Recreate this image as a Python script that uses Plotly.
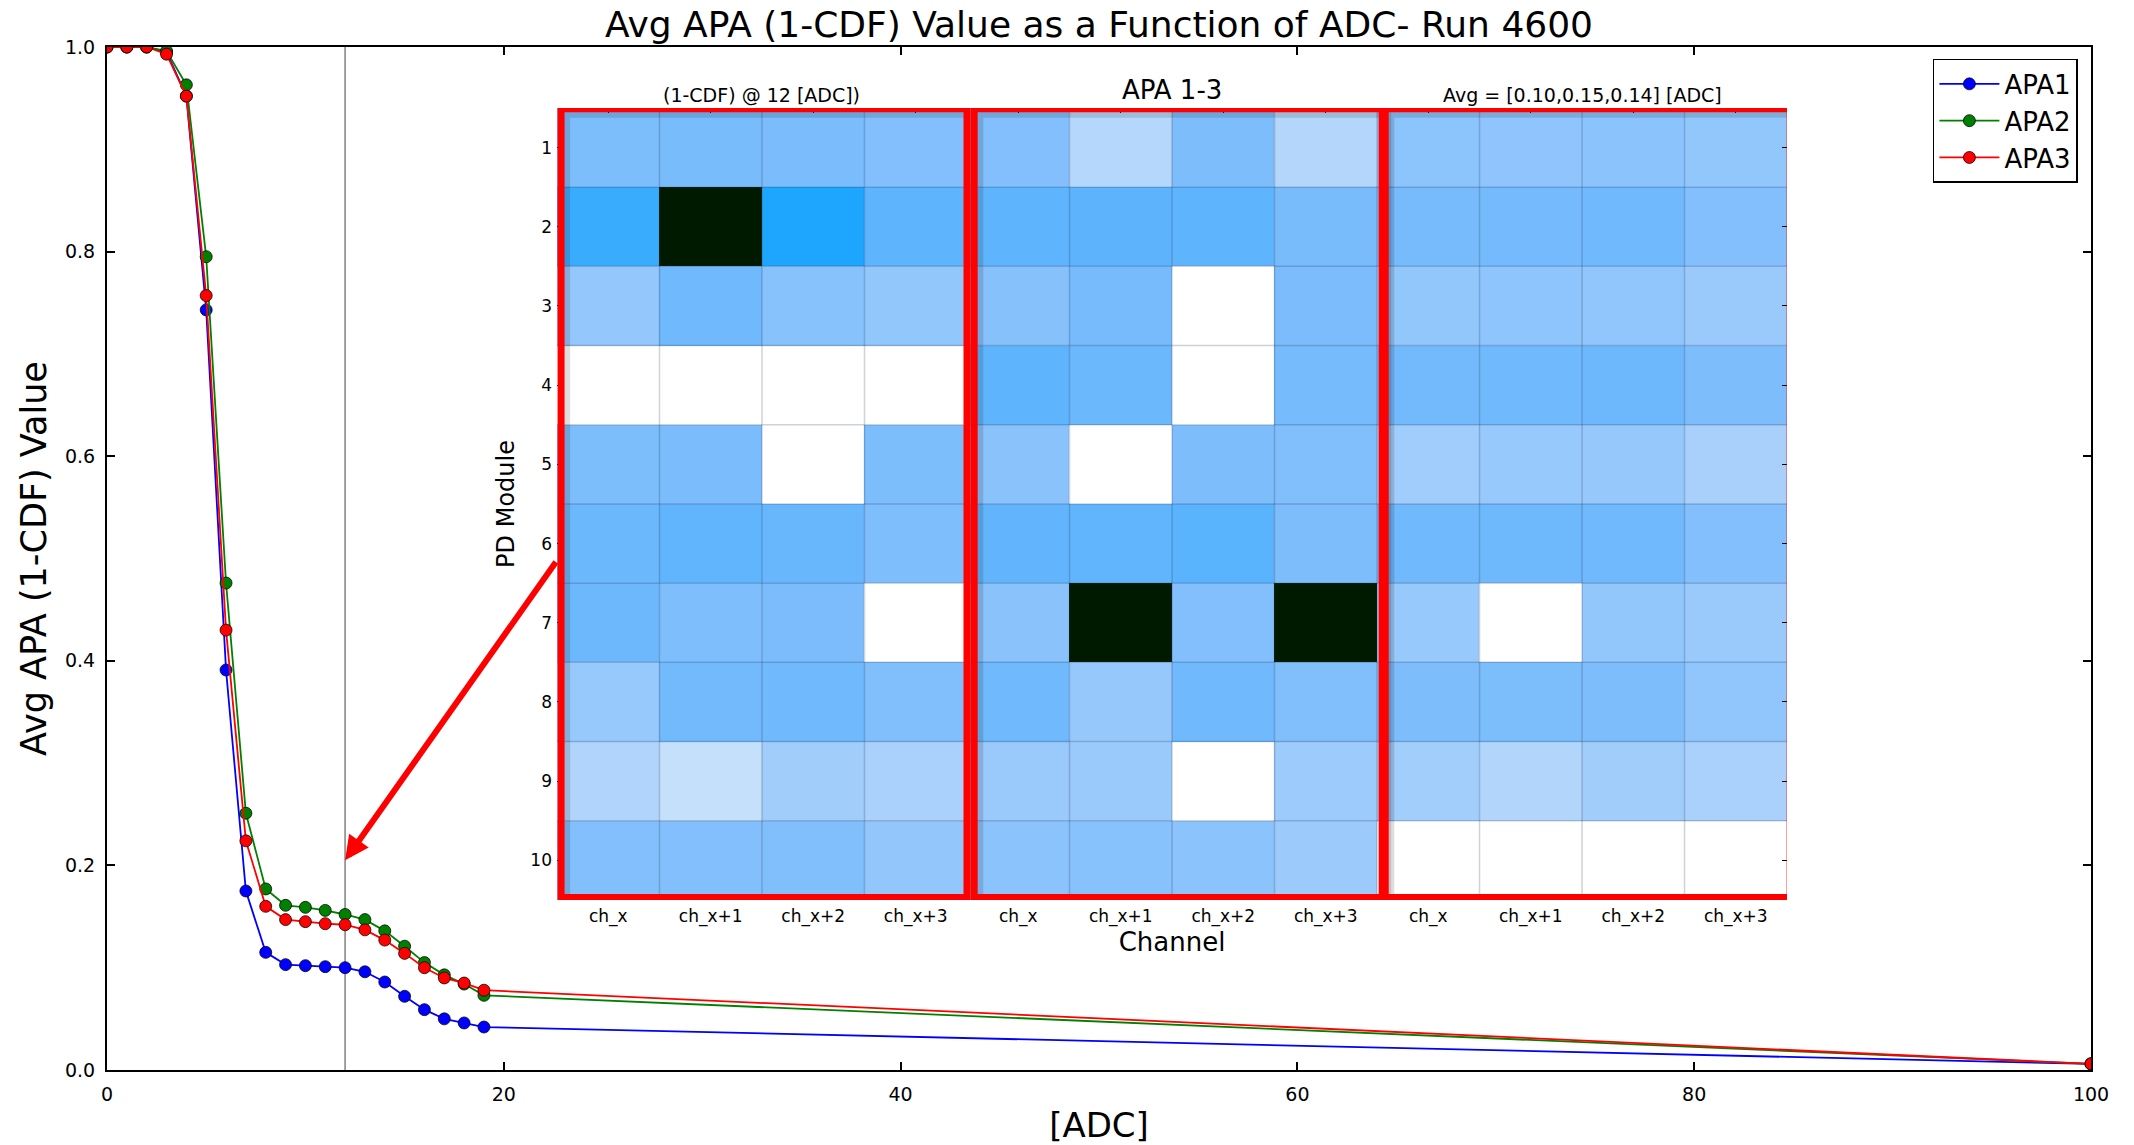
import numpy as np
import plotly.graph_objects as go

# ---- threshold scan: average (1-CDF) per APA versus ADC threshold ----
adc = [0, 1, 2, 3, 4, 5, 6, 7, 8, 9, 10, 11, 12, 13, 14, 15, 16, 17, 18, 19, 100]
apa1 = [1.0, 1.0, 1.0, 0.995, 0.952, 0.743, 0.391, 0.175, 0.115, 0.103, 0.102,
        0.101, 0.100, 0.096, 0.086, 0.072, 0.059, 0.050, 0.046, 0.042, 0.006]
apa2 = [1.0, 1.0, 1.0, 0.996, 0.963, 0.795, 0.476, 0.251, 0.177, 0.161, 0.159,
        0.156, 0.152, 0.147, 0.136, 0.121, 0.105, 0.093, 0.084, 0.073, 0.006]
apa3 = [1.0, 1.0, 1.0, 0.993, 0.952, 0.757, 0.430, 0.224, 0.160, 0.147, 0.145,
        0.143, 0.142, 0.137, 0.127, 0.114, 0.100, 0.090, 0.085, 0.078, 0.006]

series_names = ["APA1", "APA2", "APA3"]
series_colors = ["#0000ff", "#008000", "#ff0000"]

cut_adc = 12  # threshold shown in the per-channel map

# ---- per-channel (1-CDF) at the cut, rows = PD module 1..10 ----
channels = ["ch_x", "ch_x+1", "ch_x+2", "ch_x+3"]
modules = list(range(1, 11))
nan = np.nan

cdf_apa1 = [
    [0.098, 0.102, 0.101, 0.090],
    [0.185, 0.950, 0.250, 0.133],
    [0.067, 0.113, 0.081, 0.069],
    [nan, nan, nan, nan],
    [0.098, 0.101, nan, 0.098],
    [0.117, 0.129, 0.121, 0.094],
    [0.116, 0.094, 0.099, nan],
    [0.064, 0.110, 0.112, 0.093],
    [0.040, 0.023, 0.054, 0.045],
    [0.090, 0.090, 0.093, 0.068],
]
cdf_apa2 = [
    [0.090, 0.036, 0.096, 0.037],
    [0.131, 0.134, 0.131, 0.102],
    [0.084, 0.103, nan, 0.099],
    [0.131, 0.118, nan, 0.106],
    [0.078, nan, 0.096, 0.093],
    [0.128, 0.129, 0.140, 0.096],
    [0.078, 0.950, 0.090, 0.950],
    [0.113, 0.065, 0.113, 0.093],
    [0.061, 0.061, nan, 0.058],
    [0.076, 0.081, 0.076, 0.059],
]
cdf_apa3 = [
    [0.075, 0.072, 0.076, 0.069],
    [0.104, 0.108, 0.113, 0.090],
    [0.069, 0.073, 0.071, 0.061],
    [0.109, 0.113, 0.116, 0.096],
    [0.055, 0.063, 0.065, 0.047],
    [0.112, 0.114, 0.112, 0.090],
    [0.063, nan, 0.069, 0.061],
    [0.096, 0.098, 0.096, 0.071],
    [0.053, 0.038, 0.054, 0.045],
    [nan, nan, nan, nan],
]

# light blue for low occupancy, saturated blue for high, near-black for hot channels
cell_scale = [
    [0.0, "#d4e8fb"], [0.02, "#c8e2fb"], [0.045, "#aad1fb"], [0.075, "#8cc4fc"],
    [0.10, "#7bbcfc"], [0.13, "#60b5fd"], [0.18, "#3cacfe"], [0.25, "#1ea5fe"],
    [0.4999, "#1ea5fe"], [0.5, "#001a00"], [1.0, "#001a00"],
]

FONT = "DejaVu Sans"
W, H = 2134, 1145
ML, MR, MT, MB = 107, 43, 47, 75

fig = go.Figure()

for name, col, vals in zip(series_names, series_colors, [apa1, apa2, apa3]):
    fig.add_trace(go.Scatter(
        x=adc, y=vals, name=name, mode="lines+markers",
        line=dict(color=col, width=1.8),
        marker=dict(color=col, size=12, line=dict(color="rgba(0,0,0,0.75)", width=1)),
    ))

# inset map: three APAs side by side, 4 channels each
z = np.hstack([np.array(cdf_apa1), np.array(cdf_apa2), np.array(cdf_apa3)])
n_groups = 3
n_cols = n_groups * len(channels)
fig.add_trace(go.Heatmap(
    z=z, x=list(range(n_cols)), y=modules, xaxis="x2", yaxis="y2",
    colorscale=cell_scale, zmin=0, zmax=1, showscale=False, hoverongaps=False,
))

inset_x = [0.2268, 0.8468]
inset_y = [0.1662, 0.9404]

axis_common = dict(showgrid=False, zeroline=False, ticks="inside", tickcolor="black",
                   automargin=False)

fig.update_layout(
    width=W, height=H,
    margin=dict(l=ML, r=MR, t=MT, b=MB, autoexpand=False),
    paper_bgcolor="white", plot_bgcolor="white",
    font=dict(family=FONT, color="black"),
    title=dict(text="Avg APA (1-CDF) Value as a Function of ADC- Run 4600",
               font=dict(size=36, family=FONT), x=0.5, xref="paper",
               y=1 - 24 / H, yref="container", yanchor="middle"),
    xaxis=dict(**axis_common, range=[0, 100], tickvals=[0, 20, 40, 60, 80, 100],
               ticklen=8, tickwidth=1.5, showline=True, linecolor="black", linewidth=2,
               mirror="ticks", tickfont=dict(size=19), ticklabelstandoff=6,
               title=dict(text="[ADC]", font=dict(size=34), standoff=14)),
    yaxis=dict(**axis_common, range=[0, 1], tickvals=[0, 0.2, 0.4, 0.6, 0.8, 1.0],
               tickformat=".1f", ticklen=8, tickwidth=1.5, showline=True,
               linecolor="black", linewidth=2, mirror="ticks", tickfont=dict(size=19),
               ticklabelstandoff=6,
               title=dict(text="Avg APA (1-CDF) Value", font=dict(size=35), standoff=8)),
    xaxis2=dict(**axis_common, domain=inset_x, anchor="y2", range=[-0.5, n_cols - 0.5],
                tickvals=list(range(n_cols)), ticktext=channels * n_groups,
                ticklen=5, mirror="ticks", showline=False, tickfont=dict(size=17),
                ticklabelstandoff=4,
                title=dict(text="Channel", font=dict(size=26), standoff=4)),
    yaxis2=dict(**axis_common, domain=inset_y, anchor="x2", range=[10.5, 0.5],
                tickvals=modules, ticklen=5, mirror="ticks", showline=False,
                tickfont=dict(size=17), ticklabelstandoff=4,
                title=dict(text="PD Module", font=dict(size=24), standoff=8)),
    legend=dict(x=0.9934, xanchor="right", y=0.9883, yanchor="top",
                bgcolor="white", bordercolor="black", borderwidth=1.5,
                font=dict(size=26, family=FONT), itemwidth=60),
    showlegend=True,
)

shapes = []
# marker line at the chosen threshold
shapes.append(dict(type="line", xref="x", yref="paper", x0=cut_adc, x1=cut_adc,
                   y0=0, y1=1, line=dict(color="#808080", width=1.5), layer="below"))

# thin cell borders of the inset map
for k in range(n_cols - 1):
    shapes.append(dict(type="line", xref="x2", yref="y2", x0=k + 0.5, x1=k + 0.5,
                       y0=0.5, y1=10.5, line=dict(color="rgba(30,50,80,0.22)", width=1.5)))
for k in range(1, len(modules)):
    shapes.append(dict(type="line", xref="x2", yref="y2", x0=-0.5, x1=n_cols - 0.5,
                       y0=k + 0.5, y1=k + 0.5, line=dict(color="rgba(30,50,80,0.22)", width=1.5)))

# red frames around each APA block, with a soft drop shadow
frame_x = [(-0.46, 3.50), (3.57, 7.55), (7.58, 11.53)]
frame_y = (0.51, 10.47)
for x0, x1 in frame_x:
    shapes.append(dict(type="rect", xref="x2", yref="y2", x0=x0 + 0.04, x1=x1 + 0.04,
                       y0=frame_y[0] + 0.05, y1=frame_y[1] + 0.05,
                       line=dict(color="rgba(0,0,0,0.13)", width=10)))
for x0, x1 in frame_x:
    shapes.append(dict(type="rect", xref="x2", yref="y2", x0=x0, x1=x1,
                       y0=frame_y[0], y1=frame_y[1], line=dict(color="#ff0000", width=7)))
fig.update_layout(shapes=shapes)

avg_label = "Avg = [{:.2f},{:.2f},{:.2f}] [ADC]".format(
    apa1[adc.index(cut_adc)], apa2[adc.index(cut_adc)], apa3[adc.index(cut_adc)])
panel_titles = [("(1-CDF) @ {} [ADC])".format(cut_adc), 19, 0.953),
                ("APA 1-3", 26, 0.958),
                (avg_label, 19, 0.953)]
annotations = []
for g, (txt, size, ypos) in enumerate(panel_titles):
    annotations.append(dict(text=txt, xref="x2", yref="paper", x=4 * g + 1.5, y=ypos,
                            showarrow=False, font=dict(size=size, family=FONT),
                            xanchor="center", yanchor="middle"))

# arrow from the inset to the threshold point
annotations.append(dict(x=cut_adc, y=0.205, xref="x", yref="y",
                        ax=inset_x[0] * 100, ay=0.498, axref="x", ayref="y",
                        text="", showarrow=True, arrowhead=2, arrowsize=0.8,
                        arrowwidth=6, arrowcolor="#ff0000"))
fig.update_layout(annotations=annotations)

fig.write_html("out.html")
